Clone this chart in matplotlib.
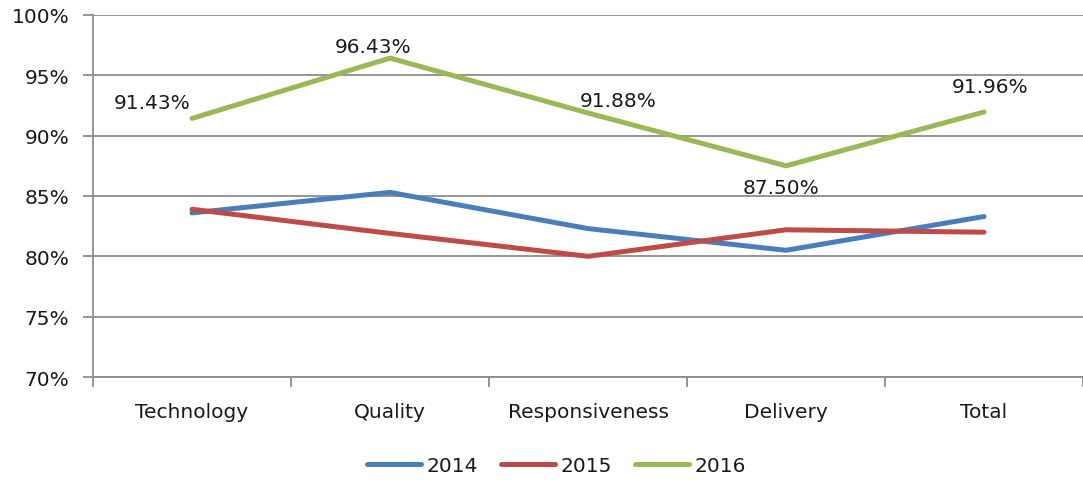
import matplotlib
matplotlib.use("Agg")
import matplotlib.pyplot as plt
from matplotlib.ticker import FixedLocator, FuncFormatter
import numpy as np

categories = ["Technology", "Quality", "Responsiveness", "Delivery", "Total"]
years = ["2014", "2015", "2016"]
v2014 = [83.6, 85.3, 82.3, 80.5, 83.3]
v2015 = [83.9, 81.9, 80.0, 82.2, 82.0]
v2016 = [91.43, 96.43, 91.88, 87.50, 91.96]
y_ticks = [70, 75, 80, 85, 90, 95, 100]
colors = ["#4A7EBB", "#BE4B48", "#98B954"]
# label offsets (pixels) for 2016 data labels
label_offsets = [(-40, 16), (-17, 12), (30, 12), (-5, -22), (6, 26)]

plt.rcParams['font.family'] = ['DejaVu Sans']
fig = plt.figure(figsize=(10.83, 4.81), dpi=100)
ax = fig.add_axes([93/1083, 1-378/481, 1-93/1083, (378-16)/481])

x = np.arange(len(categories))
for vals, c, lab in zip([v2014, v2015, v2016], colors, years):
    ax.plot(x, vals, color=c, lw=3.6, label=lab, solid_capstyle='round',
            solid_joinstyle='miter', zorder=3)

txt_color = "#1a1a1a"
for xi, v, off in zip(x, v2016, label_offsets):
    ax.annotate(f"{v:.2f}%", (xi, v), xytext=off, textcoords='offset pixels',
                ha='center', va='center', fontsize=14.5, color=txt_color, zorder=4)

ax.set_xlim(-0.5, len(categories) - 0.5)
ax.set_ylim(70, 100)
ax.set_yticks(y_ticks)
ax.yaxis.set_major_formatter(FuncFormatter(lambda v, p: f"{int(v)}%"))
ax.grid(axis='y', color='#8c8c8c', lw=1.3, zorder=0)

ax.set_xticks(x)
ax.set_xticklabels(categories)
ax.xaxis.set_minor_locator(FixedLocator(np.arange(-0.5, len(categories), 1.0)))
ax.tick_params(axis='x', which='major', length=0, pad=18, labelsize=14.5, labelcolor=txt_color)
ax.tick_params(axis='x', which='minor', length=7, width=1.3, color='#8c8c8c', direction='out')
ax.tick_params(axis='y', length=7, width=1.3, color='#8c8c8c', labelsize=14.5,
               labelcolor=txt_color, pad=10)

for s in ['top', 'right']:
    ax.spines[s].set_visible(False)
for s in ['left', 'bottom']:
    ax.spines[s].set_color('#8c8c8c')
    ax.spines[s].set_linewidth(1.3)

leg = fig.legend(loc='center', bbox_to_anchor=(556/1083, 1-467/481), ncol=3,
                 frameon=False, fontsize=14.5, handlelength=2.7, handletextpad=0.25,
                 columnspacing=1.15)
for t in leg.get_texts():
    t.set_color(txt_color)

fig.savefig("out.png", dpi=100)
